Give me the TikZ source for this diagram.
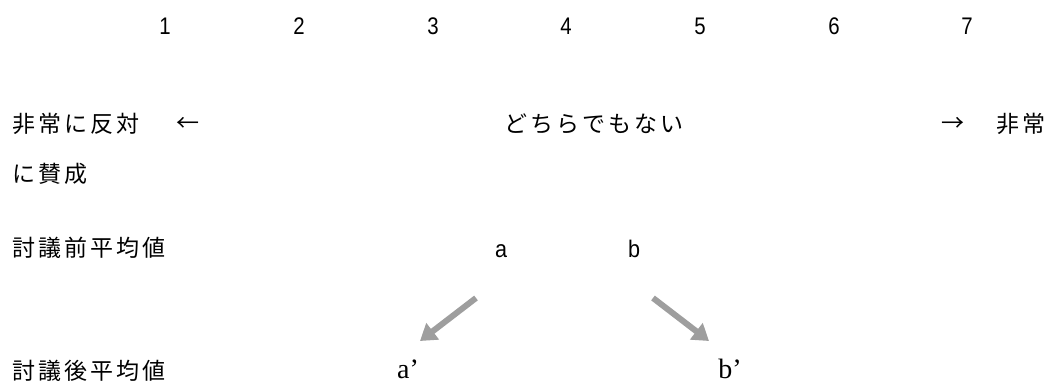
\documentclass[tikz,border=0pt]{standalone}
\usepackage{fontspec}
\setmainfont{Liberation Sans}
\newfontfamily\jpfont{Noto Sans CJK JP}
\newfontfamily\serifab{Liberation Serif}
\usetikzlibrary{arrows.meta}
\definecolor{shiftgray}{HTML}{9E9E9E}
% spread the characters of a word apart
\newcommand\spreadword[1]{\spreadaux#1\relax}
\def\spreadaux#1{\ifx#1\relax\else#1\kern3pt\expandafter\spreadaux\fi}
\tikzset{
  lbl/.style={inner sep=0pt, anchor=west, font=\jpfont\fontsize{23pt}{28pt}\selectfont},
  num/.style={inner sep=0pt, font=\fontsize{24pt}{28pt}\selectfont},
  mean/.style={inner sep=0pt, anchor=base, font=\fontsize{24pt}{28pt}\selectfont},
  meanafter/.style={inner sep=0pt, anchor=base, text depth=0pt, font=\serifab\fontsize{28pt}{32pt}\selectfont},
  shiftarrow/.style={shiftgray, line width=6pt, -{Triangle[length=16pt, width=20pt]}}
}
\begin{document}
\begin{tikzpicture}[x=1pt, y=-1pt]
  \useasboundingbox (0,0) rectangle (1049,385);

  % scale points
  \foreach \n/\x in {1/165, 2/299, 3/433, 4/566, 5/700, 6/834, 7/967}
    \node[num] (p\n) at (\x,26) {\scalebox{0.85}[1]{\n}};

  % scale description
  \node[lbl] (oppose) at (12,124) {\spreadword{非常に反対}};
  \node[lbl] (larrow) at (176,124) {←};
  \node[lbl] (neutral) at (504,124) {\spreadword{どちらでもない}};
  \node[lbl] (rarrow) at (941,124) {→};
  \node[lbl] (agree1) at (996,124) {\spreadword{非常}};
  \node[lbl] (agree2) at (12,174) {\spreadword{に賛成}};

  % means before and after discussion
  \node[lbl] (before) at (12,248) {\spreadword{討議前平均値}};
  \node[mean] (a) at (501,257) {\scalebox{0.9}[1]{a}};
  \node[mean] (b) at (634,257) {\scalebox{0.9}[1]{b}};

  \node[lbl] (after) at (12,371) {\spreadword{討議後平均値}};
  \node[meanafter] (a2) at (408,378) {a’};
  \node[meanafter] (b2) at (730,378) {b’};

  % shifts of the means
  \coordinate (atail) at (476,298);
  \coordinate (ahead) at (420,341);
  \coordinate (btail) at (653,298);
  \coordinate (bhead) at (709,341);
  \draw[shiftarrow] (atail) -- (ahead);
  \draw[shiftarrow] (btail) -- (bhead);
\end{tikzpicture}
\end{document}
